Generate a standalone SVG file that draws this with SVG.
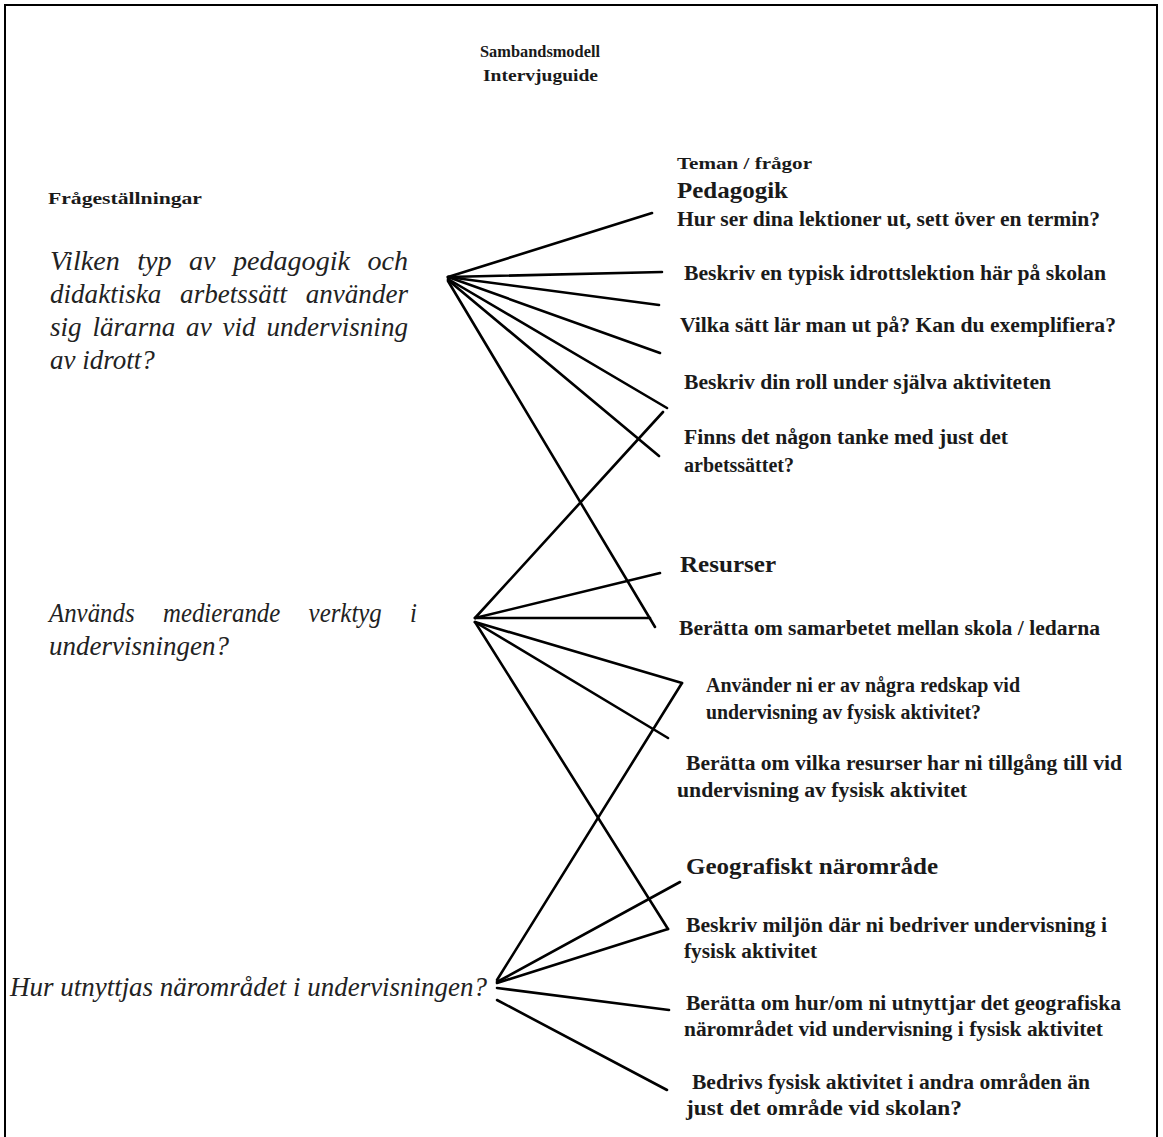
<svg xmlns="http://www.w3.org/2000/svg" width="1163" height="1137" viewBox="0 0 1163 1137">
<style>
.b{font-family:"Liberation Serif",serif;font-weight:bold;fill:#1a1a1a}
.q{font-family:"Liberation Serif",serif;font-style:italic;font-size:27px;fill:#222}
.s{font-size:20px}
.h{font-size:24px}
.c line{stroke:#000;stroke-width:2.6;stroke-linecap:round}
</style>
<rect x="0" y="0" width="1163" height="1137" fill="#fff"/>
<path d="M5 1137 V5 H1157 V1137" fill="none" stroke="#000" stroke-width="2"/>
<g id="title">
<text class="b" x="480" y="57" font-size="17" textLength="120" lengthAdjust="spacingAndGlyphs">Sambandsmodell</text>
<text class="b" x="483" y="81" font-size="17" textLength="115" lengthAdjust="spacingAndGlyphs">Intervjuguide</text>
</g>
<g id="hdr-left"><text class="b" x="48" y="204" font-size="17" textLength="154" lengthAdjust="spacingAndGlyphs">Frågeställningar</text></g>
<g id="hdr-right"><text class="b" x="677" y="169" font-size="17" textLength="135" lengthAdjust="spacingAndGlyphs">Teman / frågor</text></g>
<g id="q1">
<text class="q" x="50" y="270" word-spacing="10" textLength="358" lengthAdjust="spacingAndGlyphs">Vilken typ av pedagogik och</text>
<text class="q" x="50" y="303" word-spacing="12" textLength="358" lengthAdjust="spacingAndGlyphs">didaktiska arbetssätt använder</text>
<text class="q" x="50" y="336" word-spacing="4" textLength="358" lengthAdjust="spacingAndGlyphs">sig lärarna av vid undervisning</text>
<text class="q" x="50" y="369">av idrott?</text>
</g>
<g id="q2">
<text class="q" x="49" y="622" word-spacing="24" textLength="368" lengthAdjust="spacingAndGlyphs">Används medierande verktyg i</text>
<text class="q" x="49" y="655">undervisningen?</text>
</g>
<g id="q3"><text class="q" x="10" y="996" textLength="477" lengthAdjust="spacingAndGlyphs">Hur utnyttjas närområdet i undervisningen?</text></g>
<g id="t-pedagogik"><text class="b h" x="677" y="198" textLength="111" lengthAdjust="spacingAndGlyphs">Pedagogik</text></g>
<g id="p1"><text class="b s" x="677" y="226" textLength="423" lengthAdjust="spacingAndGlyphs">Hur ser dina lektioner ut, sett över en termin?</text></g>
<g id="p2"><text class="b s" x="684" y="280" textLength="422" lengthAdjust="spacingAndGlyphs">Beskriv en typisk idrottslektion här på skolan</text></g>
<g id="p3"><text class="b s" x="680" y="332" textLength="436" lengthAdjust="spacingAndGlyphs">Vilka sätt lär man ut på? Kan du exemplifiera?</text></g>
<g id="p4"><text class="b s" x="684" y="389" textLength="367" lengthAdjust="spacingAndGlyphs">Beskriv din roll under själva aktiviteten</text></g>
<g id="p5"><text class="b s" x="684" y="444" textLength="324" lengthAdjust="spacingAndGlyphs">Finns det någon tanke med just det</text><text class="b s" x="684" y="472">arbetssättet?</text></g>
<g id="t-resurser"><text class="b h" x="680" y="572" textLength="96" lengthAdjust="spacingAndGlyphs">Resurser</text></g>
<g id="r1"><text class="b s" x="679" y="635" textLength="421" lengthAdjust="spacingAndGlyphs">Berätta om samarbetet mellan skola / ledarna</text></g>
<g id="r2"><text class="b s" x="706" y="692" textLength="314" lengthAdjust="spacingAndGlyphs">Använder ni er av några redskap vid</text><text class="b s" x="706" y="719" textLength="275" lengthAdjust="spacingAndGlyphs">undervisning av fysisk aktivitet?</text></g>
<g id="r3"><text class="b s" x="686" y="770" textLength="436" lengthAdjust="spacingAndGlyphs">Berätta om vilka resurser har ni tillgång till vid</text><text class="b s" x="677" y="797" textLength="290" lengthAdjust="spacingAndGlyphs">undervisning av fysisk aktivitet</text></g>
<g id="t-geo"><text class="b h" x="686" y="874" textLength="252" lengthAdjust="spacingAndGlyphs">Geografiskt närområde</text></g>
<g id="g1"><text class="b s" x="686" y="932" textLength="421" lengthAdjust="spacingAndGlyphs">Beskriv miljön där ni bedriver undervisning i</text><text class="b s" x="684" y="958" textLength="133" lengthAdjust="spacingAndGlyphs">fysisk aktivitet</text></g>
<g id="g2"><text class="b s" x="686" y="1010" textLength="435" lengthAdjust="spacingAndGlyphs">Berätta om hur/om ni utnyttjar det geografiska</text><text class="b s" x="684" y="1036" textLength="419" lengthAdjust="spacingAndGlyphs">närområdet vid undervisning i fysisk aktivitet</text></g>
<g id="g3"><text class="b s" x="692" y="1089" textLength="398" lengthAdjust="spacingAndGlyphs">Bedrivs fysisk aktivitet i andra områden än</text><text class="b s" x="686" y="1115" textLength="276" lengthAdjust="spacingAndGlyphs">just det område vid skolan?</text></g>
<g id="connectors" class="c">
<line x1="448" y1="277" x2="652" y2="213"/>
<line x1="448" y1="277" x2="662" y2="272"/>
<line x1="448" y1="277" x2="659" y2="305"/>
<line x1="448" y1="277" x2="660" y2="353"/>
<line x1="448" y1="279" x2="667" y2="408"/>
<line x1="448" y1="280" x2="659" y2="456"/>
<line x1="448" y1="281" x2="655" y2="627"/>
<line x1="475" y1="618" x2="663" y2="412"/>
<line x1="475" y1="618" x2="660" y2="573"/>
<line x1="475" y1="618" x2="650" y2="618"/>
<line x1="475" y1="622" x2="682" y2="683"/>
<line x1="475" y1="622" x2="668" y2="738"/>
<line x1="475" y1="622" x2="668" y2="929"/>
<line x1="497" y1="980" x2="682" y2="683"/>
<line x1="497" y1="982" x2="680" y2="882"/>
<line x1="497" y1="983" x2="668" y2="929"/>
<line x1="497" y1="988" x2="669" y2="1010"/>
<line x1="497" y1="1000" x2="667" y2="1090"/>
</g>
</svg>
